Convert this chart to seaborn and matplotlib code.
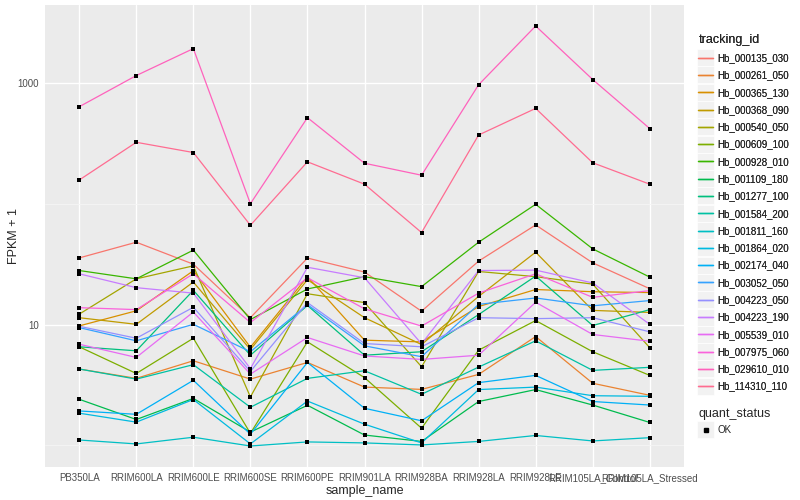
import matplotlib
matplotlib.use("Agg")
import matplotlib.pyplot as plt
from matplotlib.lines import Line2D
from matplotlib.patches import Rectangle
from matplotlib.ticker import FixedLocator, NullFormatter
import seaborn as sns
import pandas as pd
import numpy as np

# samples on the x axis
samples = ["PB350LA", "RRIM600LA", "RRIM600LE", "RRIM600SE", "RRIM600PE", "RRIM901LA",
           "RRIM928BA", "RRIM928LA", "RRIM928LE", "RRIM105LA_Control", "RRIM105LA_Stressed"]

# FPKM + 1 per gene
Hb_000135_030 = [35.6, 48.0, 31.6, 11.4, 35.5, 27.2, 12.9, 33.5, 66.7, 32.4, 19.8]
Hb_000261_050 = [4.29, 3.59, 5.02, 3.54, 4.86, 3.04, 2.91, 3.87, 7.96, 3.27, 2.60]
Hb_000365_130 = [9.75, 13.0, 27.9, 6.50, 24.9, 7.43, 7.19, 14.1, 19.5, 18.7, 18.4]
Hb_000368_090 = [11.4, 10.05, 22.5, 6.22, 23.5, 11.4, 6.84, 17.1, 39.7, 13.1, 12.6]
Hb_000540_050 = [12.2, 23.9, 30.6, 2.52, 18.0, 15.2, 4.48, 27.5, 24.9, 21.6, 6.43]
Hb_000609_100 = [6.55, 3.94, 7.71, 1.26, 7.20, 3.64, 1.39, 6.14, 10.8, 5.96, 3.80]
Hb_000928_010 = [28.0, 23.9, 41.3, 11.0, 19.7, 24.9, 20.6, 48.0, 98.8, 42.3, 24.7]
Hb_001109_180 = [2.41, 1.64, 2.45, 1.29, 2.15, 1.22, 1.08, 2.31, 2.90, 2.16, 1.55]
Hb_001277_100 = [6.55, 6.07, 19.2, 5.58, 14.4, 5.58, 5.96, 12.1, 25.2, 9.82, 13.3]
Hb_001584_200 = [4.29, 3.54, 4.66, 2.07, 3.59, 4.15, 2.65, 4.45, 7.34, 4.18, 4.43]
Hb_001811_160 = [1.11, 1.03, 1.17, 0.99, 1.07, 1.05, 1.01, 1.08, 1.21, 1.09, 1.16]
Hb_001864_020 = [1.85, 1.56, 2.40, 1.03, 2.33, 1.50, 1.05, 2.90, 3.04, 2.58, 2.55]
Hb_002174_040 = [1.93, 1.81, 3.46, 1.24, 4.86, 2.03, 1.60, 3.31, 3.80, 2.31, 2.16]
Hb_003052_050 = [9.44, 7.34, 10.05, 5.96, 14.6, 6.67, 5.42, 14.7, 16.6, 14.3, 15.8]
Hb_004223_050 = [9.68, 7.71, 13.9, 4.10, 15.2, 6.97, 6.55, 11.4, 11.2, 11.4, 8.71]
Hb_004223_190 = [26.3, 20.2, 18.2, 4.32, 29.8, 24.4, 6.93, 28.0, 28.2, 22.1, 10.05]
Hb_005539_010 = [6.88, 5.35, 12.7, 3.89, 7.82, 5.50, 5.15, 5.58, 15.3, 8.28, 7.28]
Hb_007975_060 = [13.8, 13.3, 26.3, 10.4, 24.4, 13.5, 9.72, 18.2, 26.3, 16.8, 19.1]
Hb_029610_010 = [634, 1148, 1918, 100, 515, 216, 172, 963, 2950, 1064, 418]
Hb_114310_110 = [157, 322, 265, 66.3, 222, 145, 57.7, 370, 614, 218, 145]

genes = ["Hb_000135_030", "Hb_000261_050", "Hb_000365_130", "Hb_000368_090", "Hb_000540_050",
         "Hb_000609_100", "Hb_000928_010", "Hb_001109_180", "Hb_001277_100", "Hb_001584_200",
         "Hb_001811_160", "Hb_001864_020", "Hb_002174_040", "Hb_003052_050", "Hb_004223_050",
         "Hb_004223_190", "Hb_005539_010", "Hb_007975_060", "Hb_029610_010", "Hb_114310_110"]
values = [Hb_000135_030, Hb_000261_050, Hb_000365_130, Hb_000368_090, Hb_000540_050,
          Hb_000609_100, Hb_000928_010, Hb_001109_180, Hb_001277_100, Hb_001584_200,
          Hb_001811_160, Hb_001864_020, Hb_002174_040, Hb_003052_050, Hb_004223_050,
          Hb_004223_190, Hb_005539_010, Hb_007975_060, Hb_029610_010, Hb_114310_110]

# ggplot2 default hue palette for 20 levels
colors = ["#F8766D", "#EA8331", "#D89000", "#C09B00", "#A3A500", "#7CAE00", "#39B600",
          "#00BB4E", "#00BF7D", "#00C1A3", "#00BFC4", "#00BAE0", "#00B0F6", "#35A2FF",
          "#9590FF", "#C77CFF", "#E76BF3", "#FA62DB", "#FF62BC", "#FF6C91"]
palette = dict(zip(genes, colors))

rows = []
for g, vals in zip(genes, values):
    for s, v in zip(samples, vals):
        rows.append({"tracking_id": g, "sample_name": s, "fpkm": v, "quant_status": "OK"})
df = pd.DataFrame(rows)

sns.set_style("darkgrid", {"axes.facecolor": "#EBEBEB", "grid.color": "white"})
plt.rcParams["font.family"] = ["Liberation Sans", "DejaVu Sans"]

fig = plt.figure(figsize=(8, 5), dpi=100)
ax = fig.add_axes([45 / 800, 33 / 500, 639 / 800, 462 / 500])

sns.lineplot(data=df, x="sample_name", y="fpkm", hue="tracking_id", palette=palette,
             sort=False, estimator=None, linewidth=0.9, legend=False, ax=ax)
sns.scatterplot(data=df, x="sample_name", y="fpkm", color="black", marker="s", s=8,
                linewidth=0, legend=False, ax=ax, zorder=5)

ax.set_yscale("log")
lo, hi = np.log10(df["fpkm"].min()), np.log10(df["fpkm"].max())
pad = (hi - lo) * 0.05
ax.set_ylim(10 ** (lo - pad), 10 ** (hi + pad))
ax.set_xlim(-0.6, len(samples) - 0.4)

ax.yaxis.set_major_locator(FixedLocator([10, 1000]))
ax.set_yticklabels(["10", "1000"])
ax.yaxis.set_minor_locator(FixedLocator([1, 100]))
ax.yaxis.set_minor_formatter(NullFormatter())
ax.grid(True, which="major", color="white", linewidth=1.0)
ax.grid(True, which="minor", axis="y", color="#F5F5F5", linewidth=0.6)
ax.tick_params(which="major", length=3, width=0.6, color="#333333", labelsize=7,
               labelcolor="#4D4D4D", pad=1.5)
ax.tick_params(which="minor", length=0)
for sp in ax.spines.values():
    sp.set_visible(False)

ax.set_xlabel("sample_name", fontsize=9, labelpad=1)
ax.set_ylabel("FPKM + 1", fontsize=9, labelpad=-2)

# legends like ggplot
handles = [Line2D([0], [0], color=c, linewidth=1.0) for c in colors]
leg1 = fig.legend(handles, genes, title="tracking_id", loc="upper left",
                  bbox_to_anchor=(0.862, 0.95), frameon=False, fontsize=7, title_fontsize=9,
                  handlelength=1.5, handletextpad=0.45, labelspacing=0.75, alignment="left")
pt = [Line2D([0], [0], color="black", marker="s", markersize=2.5, linestyle="none")]
leg2 = fig.legend(pt, ["OK"], title="quant_status", loc="upper left",
                  bbox_to_anchor=(0.862, 0.201), frameon=False, fontsize=7, title_fontsize=9,
                  handlelength=1.5, handletextpad=0.45, alignment="left")
fig.add_artist(leg1)

# grey key boxes behind the legend keys
fig.canvas.draw()
for leg in (leg1, leg2):
    for ln in leg.get_lines():
        bb = ln.get_window_extent()
        cx, cy = (bb.x0 + bb.x1) / 2, (bb.y0 + bb.y1) / 2
        fig.patches.append(Rectangle(((cx - 8.5) / 800, (cy - 8.5) / 500), 17 / 800, 17 / 500,
                                     transform=fig.transFigure, facecolor="#F2F2F2",
                                     edgecolor="white", linewidth=0.5, zorder=0))

fig.savefig("out.png", dpi=100, facecolor="white")
